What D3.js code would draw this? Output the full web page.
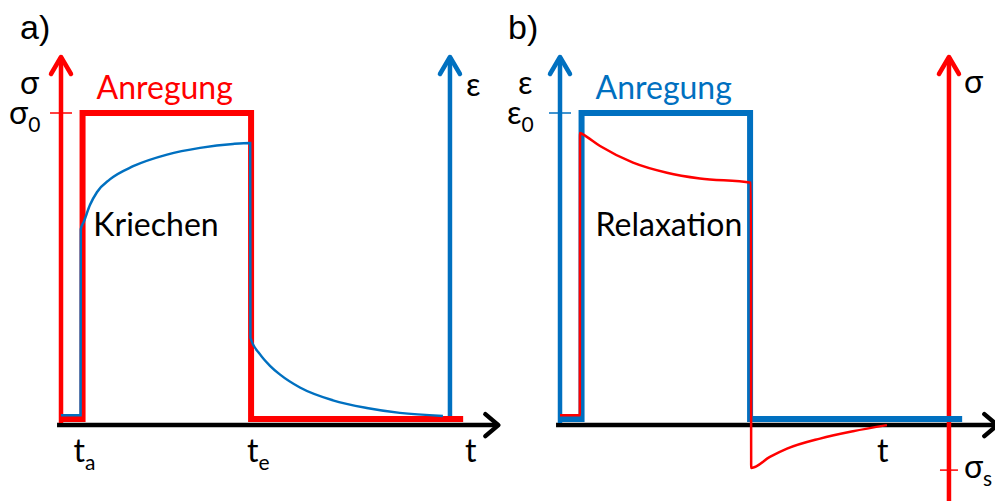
<!DOCTYPE html>
<html>
<head>
<meta charset="utf-8">
<script src="https://cdn.jsdelivr.net/npm/d3@7"></script>
<style>
  body { margin: 0; background: #fff; }
  text { font-family: Lato, "Open Sans", sans-serif; }
</style>
</head>
<body>
<script>
// time in arbitrary units (0 = origin, ~100 = arrow tip), values normalized to the step height
const tA = 4.9;
const tE = 43.2;
const tEnd = 91.4;     // end of the excitation line
const tAxis2 = 88.4;   // position of the second vertical axis
const sigmaS = -0.167;

// a) stress step and creep response
const stepA = [[0, 0], [tA, 0], [tA, 1], [tE, 1], [tE, 0], [tEnd, 0]];
const creep = [
  [0, 0.012], [4.45, 0.012], [4.5, 0.62], [5.2, 0.645], [6.6, 0.70], [8.2, 0.742],
  [11.1, 0.783], [16.4, 0.826], [24.1, 0.864], [31.6, 0.886], [39.1, 0.899], [43.0, 0.902],
  [43.05, 0.265], [45.2, 0.212], [47.5, 0.174], [49.8, 0.145], [54.3, 0.103],
  [61.8, 0.061], [69.5, 0.036], [77.0, 0.02], [86.8, 0.01]
];

// b) strain step and relaxation response
const stepB = [[0, 0], [tA, 0], [tA, 1], [tE, 1], [tE, 0], [tEnd, 0]];
const relax = [
  [0, 0.012], [4.5, 0.012], [4.55, 0.935], [5.2, 0.93], [9.1, 0.892], [16.6, 0.838],
  [24.3, 0.805], [31.8, 0.786], [43.4, 0.772],
  [43.45, -0.16], [47.7, -0.124], [51.6, -0.097], [59.1, -0.064], [66.6, -0.04], [74.3, -0.02]
];

const red = "#ff0000";
const blue = "#0070c0";
const w = 995;
const h = 501;

const svg = d3.select("body").append("svg").attr("width", w).attr("height", h);

const y = d3.scaleLinear().domain([0, 1]).range([419, 113]);
const xa = d3.scaleLinear().domain([0, 100]).range([61, 501]);
const xb = d3.scaleLinear().domain([0, 100]).range([560, 1000]);

const yTop = 1.183;   // arrow tips
const yAxisT = -0.02; // time axis

function panel(x, opts) {
  const g = svg.append("g");
  const line = d3.line().x((d) => x(d[0])).y((d) => y(d[1]));
  const smooth = d3.line().x((d) => x(d[0])).y((d) => y(d[1])).curve(d3.curveMonotoneX);

  // time axis
  g.append("line")
    .attr("x1", x(-0.9)).attr("x2", x(99.4))
    .attr("y1", y(yAxisT)).attr("y2", y(yAxisT))
    .attr("stroke", "#000").attr("stroke-width", 4.5);
  g.append("path")
    .attr("d", `M${x(99.4) - 13},${y(yAxisT) - 11}L${x(99.4)},${y(yAxisT)}L${x(99.4) - 13},${y(yAxisT) + 11}`)
    .attr("fill", "none").attr("stroke", "#000").attr("stroke-width", 4.5)
    .attr("stroke-linecap", "round").attr("stroke-linejoin", "round");

  // vertical axes
  function vAxis(t, from, color) {
    g.append("line")
      .attr("x1", x(t)).attr("x2", x(t))
      .attr("y1", from).attr("y2", y(yTop))
      .attr("stroke", color).attr("stroke-width", 4.5);
    g.append("path")
      .attr("d", `M${x(t) - 10},${y(yTop) + 17}L${x(t)},${y(yTop)}L${x(t) + 10},${y(yTop) + 17}`)
      .attr("fill", "none").attr("stroke", color).attr("stroke-width", 4.5)
      .attr("stroke-linecap", "round").attr("stroke-linejoin", "round");
  }
  vAxis(0, y(yAxisT) - 2, opts.c1);
  vAxis(tAxis2, opts.axis2From, opts.c2);

  // tick at step height on first axis
  g.append("line")
    .attr("x1", x(0) - 11).attr("x2", x(0) + 11)
    .attr("y1", y(1)).attr("y2", y(1))
    .attr("stroke", opts.c1).attr("stroke-width", 1.5);

  // excitation
  g.append("path")
    .attr("d", line(opts.step))
    .attr("fill", "none").attr("stroke", opts.c1).attr("stroke-width", 6)
    .attr("stroke-linejoin", "miter");

  // response
  g.append("path")
    .attr("d", smooth(opts.resp))
    .attr("fill", "none").attr("stroke", opts.c2).attr("stroke-width", 2.5);

  return g;
}

const ga = panel(xa, { c1: red, c2: blue, step: stepA, resp: creep, axis2From: y(0) });
const gb = panel(xb, { c1: blue, c2: red, step: stepB, resp: relax, axis2From: h });

// sigma_s tick in b
gb.append("line")
  .attr("x1", xb(tAxis2) - 9).attr("x2", xb(tAxis2) + 9)
  .attr("y1", y(sigmaS)).attr("y2", y(sigmaS))
  .attr("stroke", red).attr("stroke-width", 1.5);

// labels
function label(g, x0, y0, txt, sub, color, size, anchor) {
  const t = g.append("text").attr("x", x0).attr("y", y0)
    .attr("fill", color || "#000").attr("font-size", size || 32)
    .attr("text-anchor", anchor || "start").text(txt);
  if (sub) t.append("tspan").attr("dy", 8).attr("font-size", 21).text(sub);
  return t;
}

svg.append("text").attr("x", 20).attr("y", 39).attr("font-size", 34)
  .style("font-family", "'Liberation Sans', Arial, sans-serif").text("a)");
svg.append("text").attr("x", 508).attr("y", 39).attr("font-size", 34)
  .style("font-family", "'Liberation Sans', Arial, sans-serif").text("b)");

// panel a
label(ga, 20, 94, "σ");
label(ga, 9, 124, "σ", "0");
label(ga, xa(tAxis2) + 16, 96, "ε");
label(ga, xa(tA) + 14, 99, "Anregung", null, red);
label(ga, 156, 236, "Kriechen", null, "#000", 32, "middle");
label(ga, xa(tA) - 9, 462, "t", "a");
label(ga, xa(tE) - 4, 462, "t", "e");
label(ga, 465, 462, "t");

// panel b
label(gb, 518, 94, "ε");
label(gb, 507, 124, "ε", "0");
label(gb, xb(tAxis2) + 15, 93, "σ");
label(gb, xb(tA) + 14, 99, "Anregung", null, blue);
label(gb, xb(tA) + 14, 236, "Relaxation");
label(gb, 877, 462, "t");
label(gb, xb(tAxis2) + 15, 478, "σ", "s");
</script>
</body>
</html>
